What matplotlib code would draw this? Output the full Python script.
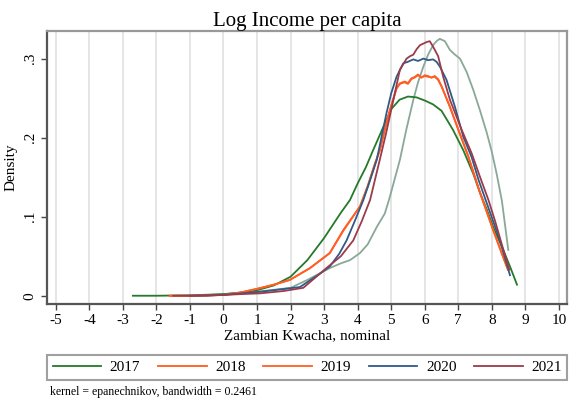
import numpy as np
import matplotlib.pyplot as plt

plt.rcParams['font.family'] = ['Liberation Serif', 'DejaVu Serif']
plt.rcParams['axes.unicode_minus'] = False

# kernel density estimates of log income, read per survey year
x2017 = [-2.7, -2.0, -1.0, 0.0, 0.5, 1.0, 1.5, 2.0, 2.5, 3.0, 3.5, 3.77, 4.0, 4.25, 4.46, 4.75, 5.0, 5.25, 5.5, 5.75, 6.0, 6.25, 6.5, 6.84, 7.15, 7.44, 7.65, 7.85, 8.04, 8.34, 8.55, 8.75]
y2017 = [0.0, 0.0, 0.0005, 0.002, 0.004, 0.007, 0.013, 0.024, 0.045, 0.073, 0.105, 0.121, 0.142, 0.163, 0.184, 0.212, 0.236, 0.248, 0.252, 0.251, 0.247, 0.242, 0.234, 0.21, 0.184, 0.155, 0.13, 0.109, 0.087, 0.058, 0.036, 0.014]

x2018 = [-1.6, -1.0, 0.0, 0.5, 1.09, 1.5, 1.98, 2.58, 3.17, 3.57, 4.07, 4.3, 4.52, 4.66, 4.8, 4.96, 5.16, 5.26, 5.4, 5.5, 5.6, 5.7, 5.8, 5.9, 6.0, 6.1, 6.2, 6.3, 6.4, 6.5, 6.75, 7.05, 7.3, 7.65, 8.04, 8.3, 8.48]
y2018 = [0.0, 0.0, 0.001, 0.004, 0.0095, 0.014, 0.02, 0.035, 0.054, 0.082, 0.113, 0.138, 0.167, 0.184, 0.208, 0.234, 0.262, 0.268, 0.27, 0.268, 0.274, 0.276, 0.279, 0.276, 0.278, 0.277, 0.276, 0.277, 0.273, 0.265, 0.239, 0.204, 0.176, 0.13, 0.083, 0.053, 0.033]

x2019 = [-1.6, -1.0, 0.0, 0.5, 1.09, 1.5, 1.98, 2.58, 3.17, 3.57, 4.07, 4.3, 4.52, 4.66, 4.8, 4.96, 5.16, 5.26, 5.41, 5.5, 5.6, 5.71, 5.8, 5.9, 6.0, 6.1, 6.2, 6.3, 6.4, 6.5, 6.75, 7.05, 7.3, 7.65, 8.04, 8.3, 8.48]
y2019 = [0.0, 0.0, 0.001, 0.004, 0.0097, 0.014, 0.02, 0.035, 0.054, 0.083, 0.113, 0.139, 0.168, 0.184, 0.209, 0.235, 0.263, 0.269, 0.271, 0.269, 0.275, 0.277, 0.28, 0.276, 0.279, 0.278, 0.276, 0.278, 0.274, 0.265, 0.239, 0.205, 0.176, 0.13, 0.083, 0.053, 0.033]

x2020 = [-1.0, 0.0, 1.09, 1.7, 2.28, 2.88, 3.17, 3.45, 3.67, 3.9, 4.17, 4.37, 4.57, 4.86, 5.0, 5.16, 5.36, 5.5, 5.66, 5.8, 5.96, 6.1, 6.25, 6.35, 6.45, 6.65, 6.9, 7.15, 7.4, 7.6, 7.85, 8.05, 8.24, 8.54]
y2020 = [0.0, 0.001, 0.005, 0.008, 0.011, 0.028, 0.037, 0.053, 0.07, 0.093, 0.121, 0.146, 0.172, 0.231, 0.256, 0.277, 0.294, 0.296, 0.299, 0.297, 0.300, 0.298, 0.299, 0.296, 0.29, 0.273, 0.239, 0.201, 0.175, 0.147, 0.117, 0.093, 0.07, 0.026]

x2021 = [-1.5, -0.5, 0.5, 1.09, 1.8, 2.38, 3.07, 3.5, 3.87, 4.12, 4.37, 4.66, 4.85, 5.0, 5.26, 5.46, 5.56, 5.66, 5.76, 5.86, 5.96, 6.06, 6.15, 6.25, 6.4, 6.55, 6.75, 7.1, 7.4, 7.65, 7.9, 8.1, 8.29, 8.52]
y2021 = [0.0, 0.0, 0.002, 0.003, 0.006, 0.01, 0.035, 0.05, 0.07, 0.094, 0.121, 0.172, 0.206, 0.235, 0.286, 0.30, 0.303, 0.305, 0.312, 0.317, 0.319, 0.321, 0.322, 0.315, 0.303, 0.277, 0.248, 0.21, 0.18, 0.15, 0.121, 0.094, 0.066, 0.033]

# extra series drawn without a legend key
x_other = [-0.8, 0.0, 1.0, 2.0, 2.5, 3.17, 3.5, 3.77, 4.07, 4.3, 4.57, 4.81, 4.96, 5.1, 5.26, 5.45, 5.66, 5.8, 5.96, 6.1, 6.25, 6.35, 6.45, 6.6, 6.75, 6.9, 7.05, 7.25, 7.45, 7.65, 7.85, 8.0, 8.14, 8.3, 8.49]
y_other = [0.0, 0.002, 0.005, 0.01, 0.02, 0.035, 0.041, 0.045, 0.054, 0.065, 0.087, 0.104, 0.125, 0.147, 0.172, 0.21, 0.248, 0.27, 0.29, 0.305, 0.317, 0.322, 0.325, 0.322, 0.311, 0.305, 0.30, 0.283, 0.26, 0.234, 0.206, 0.182, 0.155, 0.12, 0.058]

years = ['2017', '2018', '2019', '2020', '2021']
colors = ['#24792a', '#ff5a1f', '#ff5f24', '#2e5b88', '#9b3b4b']

fig = plt.figure(figsize=(5.73, 4.07), dpi=100)
ax = fig.add_axes([0.082, 0.253, 0.9075, 0.671])

ax.plot(x_other, y_other, color='#8aa898', lw=1.3)
series = [(x2017, y2017), (x2018, y2018), (x2019, y2019), (x2020, y2020), (x2021, y2021)]
for (xs, ys), yr, c in zip(series, years, colors):
    ax.plot(xs, ys, color=c, lw=1.3, label=yr)

ax.set_xlim(-5.26, 10.24)
ax.set_ylim(-0.0105, 0.335)
ax.set_xticks(np.arange(-5, 11))
ax.set_yticks([0, 0.1, 0.2, 0.3])
ax.set_yticklabels(['0', '.1', '.2', '.3'], rotation=90, va='center')
ax.tick_params(labelsize=11, length=4, width=1, color='#444444')
ax.grid(axis='x', color='#e3e3e3', lw=1.3)
ax.set_axisbelow(True)
for side in ['left', 'bottom']:
    ax.spines[side].set_color('#555555')
    ax.spines[side].set_linewidth(1.6)
for side in ['top', 'right']:
    ax.spines[side].set_color('#999999')
    ax.spines[side].set_linewidth(1.6)

ax.set_title('Log Income per capita', fontsize=15, pad=3)
ax.set_xlabel('Zambian Kwacha, nominal', fontsize=11, labelpad=1)
ax.set_ylabel('Density', fontsize=11, labelpad=4)

leg = fig.legend(loc='center', bbox_to_anchor=(0.536, 0.0975), ncol=5, fontsize=11,
                 frameon=True, fancybox=False, handlelength=3.2, columnspacing=1.15,
                 borderpad=0.35, handletextpad=0.55, borderaxespad=0)
leg.get_frame().set_edgecolor('#888888')
leg.get_frame().set_linewidth(1.5)

fig.text(0.087, 0.03, 'kernel = epanechnikov, bandwidth = 0.2461', fontsize=8.5)

fig.savefig('out.png', dpi=100)
